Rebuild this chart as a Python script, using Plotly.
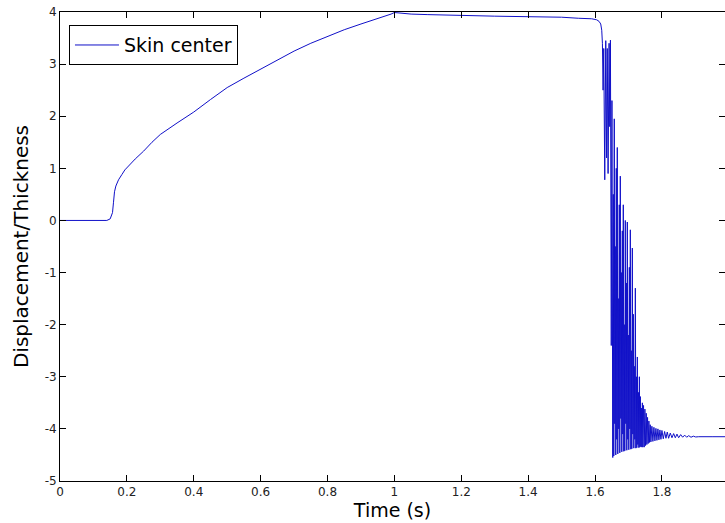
import plotly.graph_objects as go

# ---- data ----
t_rise = [0.0, 0.05, 0.10, 0.140, 0.150, 0.157, 0.160, 0.163, 0.167, 0.175, 0.185, 0.194,
          0.225, 0.250, 0.275, 0.300, 0.350, 0.400, 0.450, 0.500, 0.550, 0.600, 0.650,
          0.700, 0.750, 0.800, 0.850, 0.900, 0.950, 0.990, 1.000]
v_rise = [0.0, 0.0, 0.0, 0.0, 0.03, 0.15, 0.35, 0.55, 0.66, 0.78, 0.88, 0.97,
          1.18, 1.33, 1.50, 1.65, 1.87, 2.08, 2.32, 2.55, 2.73, 2.90, 3.08,
          3.25, 3.40, 3.53, 3.66, 3.77, 3.87, 3.96, 3.99]

t_plateau = [1.05, 1.10, 1.20, 1.30, 1.40, 1.50, 1.55, 1.59, 1.605, 1.612, 1.617, 1.620]
v_plateau = [3.96, 3.95, 3.93, 3.92, 3.91, 3.90, 3.88, 3.87, 3.85, 3.82, 3.77, 3.65]

t_osc = [1.6220, 1.6240, 1.6260, 1.6290, 1.6320, 1.6345, 1.6365, 1.6390, 1.6420, 1.6440,
         1.6460, 1.6485, 1.6505, 1.6530,
         1.6545, 1.6560, 1.6575, 1.6590, 1.6605, 1.6620, 1.6635, 1.6650, 1.6665, 1.6680,
         1.6695, 1.6710, 1.6725, 1.6740, 1.6755, 1.6770, 1.6785, 1.6800, 1.6815, 1.6830,
         1.6845, 1.6860, 1.6875, 1.6890, 1.6905, 1.6920, 1.6935, 1.6950, 1.6965, 1.6980,
         1.6995, 1.7010, 1.7025, 1.7040, 1.7055, 1.7070, 1.7085, 1.7100, 1.7115, 1.7130,
         1.7145, 1.7160, 1.7175, 1.7190, 1.7205, 1.7220, 1.7235, 1.7250, 1.7265, 1.7280,
         1.7295, 1.7310, 1.7325, 1.7340, 1.7355, 1.7370, 1.7385, 1.7400, 1.7415, 1.7430]
v_osc = [3.40, 2.50, 3.30, 0.78, 3.45, 1.20, 3.30, 0.90, 3.40, 1.80,
         3.46, -2.40, 2.30, -4.55,
         0.50, -4.52, 1.95, -3.90, -0.50, -4.50, 1.00, -4.20, 1.40, -4.48,
         -1.50, -4.00, 0.30, -4.46, 0.85, -3.80, -1.00, -4.44, -0.20, -4.10,
         0.30, -4.43, -2.00, -4.42, 0.00, -3.90, -1.20, -4.41, -0.03, -4.20,
         -2.20, -4.40, -0.90, -4.00, -0.18, -4.39, -2.50, -4.38, -0.53, -4.10,
         -1.80, -4.37, -2.80, -4.20, -1.30, -4.37, -3.00, -4.36, -2.62, -4.30,
         -3.30, -4.36, -3.00, -4.35, -3.38, -4.34, -3.60, -4.35, -3.50, -4.35]

t_settle = [1.7450, 1.7470, 1.7490, 1.7510, 1.7530, 1.7550, 1.7570, 1.7590, 1.7610, 1.7630,
            1.7650, 1.7670, 1.7700, 1.7730, 1.7760, 1.7790, 1.7820, 1.7850, 1.7880, 1.7910,
            1.7940, 1.7970, 1.8000, 1.8040, 1.8080, 1.8120, 1.8160, 1.8200, 1.8250, 1.8300,
            1.8350, 1.8400, 1.8450, 1.8500, 1.8560, 1.8620, 1.8680, 1.8740, 1.8800, 1.8870,
            1.8940, 1.9010, 1.9100, 1.9500, 2.0000]
v_settle = [-3.55, -4.35, -3.62, -4.32, -3.70, -4.30, -3.78, -4.28, -3.85, -4.26,
            -3.92, -4.25, -3.95, -4.24, -3.97, -4.23, -3.99, -4.22, -4.00, -4.21,
            -4.02, -4.20, -4.03, -4.19, -4.05, -4.18, -4.06, -4.18, -4.08, -4.17,
            -4.09, -4.17, -4.10, -4.17, -4.11, -4.16, -4.12, -4.16, -4.13, -4.16,
            -4.14, -4.155, -4.15, -4.15, -4.15]

x_ticks = [0, 0.2, 0.4, 0.6, 0.8, 1.0, 1.2, 1.4, 1.6, 1.8, 2.0]
x_tick_labels = ["0", "0.2", "0.4", "0.6", "0.8", "1", "1.2", "1.4", "1.6", "1.8", "2"]
y_ticks = [-5, -4, -3, -2, -1, 0, 1, 2, 3, 4]
y_tick_labels = ["-5", "-4", "-3", "-2", "-1", "0", "1", "2", "3", "4"]

series_name = "Skin center"

time_s = t_rise + t_plateau + t_osc + t_settle
disp = v_rise + v_plateau + v_osc + v_settle

FONT = "DejaVu Sans, Arial, sans-serif"

fig = go.Figure()
fig.add_trace(go.Scatter(
    x=time_s, y=disp, mode="lines", name=series_name,
    line=dict(color="#1010c8", width=1),
))
# invisible helper trace to activate the right-hand tick axis
fig.add_trace(go.Scatter(x=[0], y=[0], yaxis="y2", mode="lines",
                         line=dict(width=0), showlegend=False, hoverinfo="skip"))

axis_common = dict(
    showgrid=False, zeroline=False, showline=True, linecolor="black", linewidth=1,
    ticks="inside", ticklen=6, tickcolor="black", tickwidth=1,
    tickfont=dict(family=FONT, size=12, color="#222222"),
    ticklabeloverflow="allow",
)

fig.update_layout(
    width=725, height=523,
    margin=dict(l=60, r=0, t=12, b=42),
    paper_bgcolor="white", plot_bgcolor="white",
    showlegend=True,
    legend=dict(
        x=0.0135, y=0.972, xanchor="left", yanchor="top",
        bgcolor="white", bordercolor="black", borderwidth=1,
        font=dict(family=FONT, size=19, color="black"),
        itemwidth=44, tracegroupgap=0,
    ),
    xaxis=dict(
        range=[0, 1.9886], tickvals=x_ticks, ticktext=x_tick_labels,
        mirror="ticks", automargin=False,
        title=dict(text="Time (s)", font=dict(family=FONT, size=19, color="black"), standoff=2),
        **axis_common,
    ),
    yaxis=dict(
        range=[-5, 4], tickvals=y_ticks, ticktext=y_tick_labels, automargin=False,
        title=dict(text="Displacement/Thickness", font=dict(family=FONT, size=20, color="black"), standoff=10),
        **axis_common,
    ),
    yaxis2=dict(
        overlaying="y", side="right", range=[-5, 4], tickvals=y_ticks,
        showticklabels=False, showgrid=False, zeroline=False, showline=False,
        ticks="inside", ticklen=6, tickcolor="black", tickwidth=1,
    ),
)

# remove the browser's default 8px body margin so the figure sits at (0, 0)
fig.write_html("out.html", config={"displayModeBar": False},
               post_script="document.body.style.margin='0';")
